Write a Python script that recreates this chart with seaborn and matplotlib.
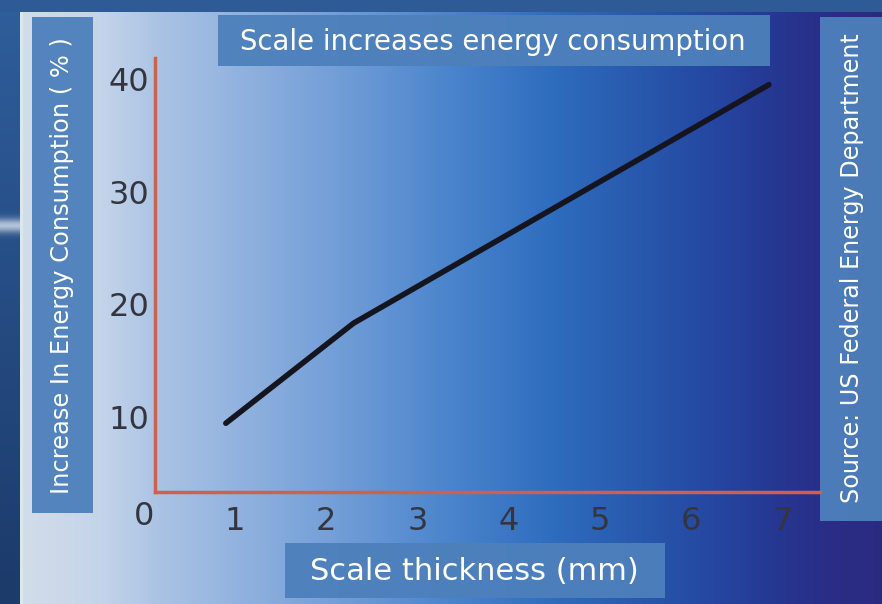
import numpy as np
import matplotlib
matplotlib.use("Agg")
import matplotlib.pyplot as plt
from matplotlib.colors import to_rgb
from matplotlib.patches import Rectangle
import seaborn as sns

# data
thickness = [0.9, 2.3, 6.85]          # mm
increase = [9.4, 18.3, 39.5]          # % increase in energy consumption
x_ticks = [1, 2, 3, 4, 5, 6, 7]
y_ticks = [10, 20, 30, 40]

title = "Scale increases energy consumption"
x_label = "Scale thickness (mm)"
y_label = "Increase In Energy Consumption ( % )"
source = "Source: US Federal Energy Department"

sns.set_style("white")
plt.rcParams['font.family'] = ['DejaVu Sans']

W, H = 882, 604
fig = plt.figure(figsize=(W / 100, H / 100), dpi=100)

# background gradient panel (light left -> navy right)
stop_x = [20, 100, 160, 250, 350, 450, 550, 650, 720, 780, 830, 882]
stop_c = ['#d3dde9', '#c4d4ea', '#aac3e4', '#8eb0de', '#6e9bd6', '#4a84cc',
          '#2f6dbe', '#2756ab', '#2545a0', '#263690', '#2a2d86', '#2b2b80']
stop_rgb = np.array([to_rgb(c) for c in stop_c])
bg = np.zeros((H, W, 3))
cols = np.arange(W)
for k in range(3):
    bg[:, :, k] = np.interp(cols, stop_x, stop_rgb[:, k])
# outer frame strips
rows = np.linspace(0, 1, H)[:, None]
top_c, bot_c = np.array(to_rgb('#2f5e9c')), np.array(to_rgb('#1c3a6a'))
strip = top_c * (1 - rows) + bot_c * rows
streak = np.exp(-((np.arange(H) - 225) / 7.0) ** 2)[:, None]
strip = strip * (1 - 0.75 * streak) + np.array(to_rgb('#dfe8f2')) * 0.75 * streak
bg[:, :20] = strip[:, None, :]
bg[:12, :] = to_rgb('#2e5a96')
bg[12:, 20:23] = to_rgb('#dde5ee')

bg_ax = fig.add_axes([0, 0, 1, 1], zorder=-1)
bg_ax.imshow(bg, extent=[0, W, H, 0], aspect='auto')
bg_ax.set_xlim(0, W)
bg_ax.set_ylim(H, 0)
bg_ax.axis('off')

box_color = '#4d80bb'
for (bx, by, bw, bh) in [(32, 17, 61, 496), (218, 15, 552, 51),
                         (820, 17, 62, 504), (285, 543, 380, 55)]:
    bg_ax.add_patch(Rectangle((bx, by), bw, bh, color=box_color, alpha=0.95, lw=0))

bg_ax.text(493, 42, title, color='white', fontsize=19.8, ha='center', va='center')
bg_ax.text(474, 572, x_label, color='white', fontsize=22, ha='center', va='center')
bg_ax.text(62, 266, y_label, color='white', fontsize=17.4, rotation=90,
           ha='center', va='center')
bg_ax.text(852, 268, source, color='white', fontsize=17.2, rotation=90,
           ha='center', va='center')

# main chart
ax = fig.add_axes([155 / W, 1 - 492 / H, 665 / W, 434 / H], zorder=2)
ax.patch.set_alpha(0)
sns.lineplot(x=thickness, y=increase, ax=ax, color='#151520', linewidth=4,
             solid_capstyle='round')
ax.set_xlim(0.124, 7.41)
ax.set_ylim(3.29, 41.87)
ax.set_xticks(x_ticks)
ax.set_yticks(y_ticks)
ax.tick_params(axis='both', length=0, labelsize=23, labelcolor='#35353f')
ax.tick_params(axis='x', pad=10)
ax.tick_params(axis='y', pad=4)
ax.text(0, 1.07, "0", fontsize=23, color='#35353f', ha='center', va='center',
        clip_on=False)

for side in ['top', 'right']:
    ax.spines[side].set_visible(False)
for side in ['left', 'bottom']:
    ax.spines[side].set_color('#d0604e')
    ax.spines[side].set_linewidth(2.5)

fig.savefig("out.png", dpi=100)
